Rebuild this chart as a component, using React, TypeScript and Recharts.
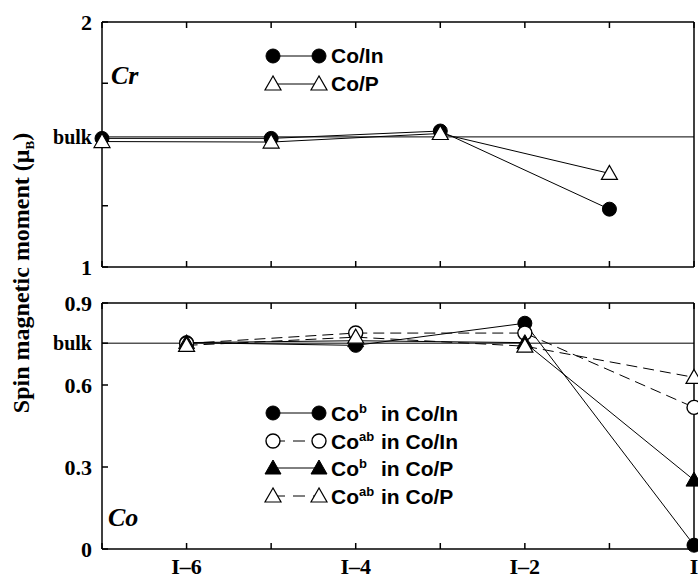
import React from "react";
import { LineChart, Line, XAxis, YAxis, ReferenceLine } from "recharts";

// Cr panel (x = layer offset from interface I)
const crX = [-7, -5, -3, -1];
const crCoIn = [1.525, 1.525, 1.555, 1.236];
const crCoP = [1.512, 1.51, 1.545, 1.382];
const crBulk = 1.531;

// Co panel
const coX = [-6, -4, -2, 0];
const coBInCoIn = [0.755, 0.745, 0.826, 0.014];
const coAbInCoIn = [0.752, 0.79, 0.79, 0.518];
const coBInCoP = [0.755, 0.762, 0.755, 0.252];
const coAbInCoP = [0.745, 0.775, 0.742, 0.628];
const coBulk = 0.753;

const xTicks = [-7, -6, -5, -4, -3, -2, -1, 0];
const xTickLabels: Record<string, string> = { "-6": "I–6", "-4": "I–4", "-2": "I–2", "0": "I" };
const crYTicks = [1, 1.25, crBulk, 1.75, 2];
const crYLabels = ["1", "", "bulk", "", "2"];
const coYTicks = [0, 0.3, 0.6, coBulk, 0.9];
const coYLabels = ["0", "0.3", "0.6", "bulk", "0.9"];

const crData = crX.map((x, i) => ({ x, coIn: crCoIn[i], coP: crCoP[i] }));
const coData = coX.map((x, i) => ({
  x,
  bIn: coBInCoIn[i],
  abIn: coAbInCoIn[i],
  bP: coBInCoP[i],
  abP: coAbInCoP[i],
}));

const SERIF = "'Liberation Serif', 'Times New Roman', serif";
const SANS = "'Liberation Sans', Arial, sans-serif";
const DASH = "11 6";

function Marker({ cx, cy, kind }: { cx: number; cy: number; kind: string }) {
  if (cx == null || cy == null) return null;
  if (kind === "circle") return <circle cx={cx} cy={cy} r={7} fill="#000" stroke="#000" />;
  if (kind === "ocircle") return <circle cx={cx} cy={cy} r={7} fill="#fff" stroke="#000" strokeWidth={1.4} />;
  const pts = `${cx},${cy - 8} ${cx - 8},${cy + 6} ${cx + 8},${cy + 6}`;
  if (kind === "tri") return <polygon points={pts} fill="#000" stroke="#000" />;
  return <polygon points={pts} fill="#fff" stroke="#000" strokeWidth={1.2} />;
}

const dotFor = (kind: string) => (props: any) => (
  <g key={`${kind}-${props.index}`}>
    <Marker cx={props.cx} cy={props.cy} kind={kind} />
  </g>
);

function yTick(ticks: number[], labels: string[]) {
  return (props: any) => {
    const { x, y, payload } = props;
    const idx = ticks.indexOf(payload.value);
    const label = labels[idx] ?? "";
    const isBulk = label === "bulk";
    return (
      <text
        x={x}
        y={y}
        dy="0.35em"
        textAnchor="end"
        fontFamily={SERIF}
        fontWeight="bold"
        fontSize={isBulk ? 20 : 22}
        fill="#000"
      >
        {label}
      </text>
    );
  };
}

// bottom axis height, left axis width, etc. are used as real box sizes
function Frame({ ticks, domain, yLabels, rightTicks, bottomLabels, bottomH }: any) {
  return [
    <XAxis
      key="xb"
      xAxisId="b"
      dataKey="x"
      type="number"
      domain={[-7, 0]}
      ticks={xTicks}
      interval={0}
      height={bottomH}
      tickSize={-6}
      tickMargin={15}
      stroke="#000"
      strokeWidth={1.5}
      tick={{ fontFamily: SERIF, fontWeight: "bold", fontSize: 22, fill: "#000" }}
      tickFormatter={(v: number) => (bottomLabels ? xTickLabels[String(v)] ?? "" : "")}
    />,
    <XAxis
      key="xt"
      xAxisId="t"
      orientation="top"
      dataKey="x"
      type="number"
      domain={[-7, 0]}
      ticks={xTicks}
      interval={0}
      height={2}
      tickSize={-6}
      stroke="#000"
      strokeWidth={1.5}
      tickFormatter={() => ""}
    />,
    <YAxis
      key="yl"
      yAxisId="l"
      type="number"
      domain={domain}
      ticks={ticks}
      interval={0}
      width={60}
      tickSize={-6}
      tickMargin={16}
      stroke="#000"
      strokeWidth={1.5}
      tick={yTick(ticks, yLabels)}
    />,
    <YAxis
      key="yr"
      yAxisId="r"
      orientation="right"
      type="number"
      domain={domain}
      ticks={rightTicks}
      interval={0}
      width={2}
      tickSize={-6}
      stroke="#000"
      strokeWidth={1.5}
      tickFormatter={() => ""}
    />,
  ];
}

function LegendRow({ kind, dashed, top, children }: any) {
  return (
    <div style={{ position: "absolute", left: 262, top: top - 11, height: 22, display: "flex", alignItems: "center" }}>
      <svg width={68} height={22} style={{ display: "block" }}>
        <line x1={11} y1={11} x2={57} y2={11} stroke="#000" strokeWidth={1} strokeDasharray={dashed ? "12 8" : undefined} />
        <Marker cx={11} cy={11} kind={kind} />
        <Marker cx={57} cy={11} kind={kind} />
      </svg>
      <span style={{ fontFamily: SANS, fontWeight: "bold", fontSize: 21, color: "#000", marginLeft: 1, whiteSpace: "pre" }}>
        {children}
      </span>
    </div>
  );
}

function CoName({ sup, rest }: { sup: string; rest: string }) {
  return (
    <>
      Co
      <span style={{ display: "inline-block", width: 22, fontSize: 13, verticalAlign: "8px" }}>{sup}</span>
      {rest}
    </>
  );
}

export default function App() {
  return (
    <div style={{ position: "relative", width: 698, height: 579, background: "#fff", overflow: "hidden" }}>
      <style>{"body{margin:0}"}</style>

      <div style={{ position: "absolute", left: 0, top: 0 }}>
        <LineChart width={698} height={290} data={crData} margin={{ top: 20, right: 2, bottom: 0, left: 42 }}>
          {Frame({ ticks: crYTicks, domain: [1, 2], yLabels: crYLabels, rightTicks: [1.25, 1.5, 1.75], bottomLabels: false, bottomH: 23 })}
          <ReferenceLine xAxisId="b" yAxisId="l" y={crBulk} stroke="#000" strokeWidth={1} />
          <Line xAxisId="b" yAxisId="l" dataKey="coIn" stroke="#000" strokeWidth={1} dot={dotFor("circle")} isAnimationActive={false} />
          <Line xAxisId="b" yAxisId="l" dataKey="coP" stroke="#000" strokeWidth={1} dot={dotFor("otri")} isAnimationActive={false} />
        </LineChart>
      </div>

      <div style={{ position: "absolute", left: 0, top: 290 }}>
        <LineChart width={698} height={289} data={coData} margin={{ top: 11, right: 2, bottom: 0, left: 42 }}>
          {Frame({ ticks: coYTicks, domain: [0, 0.9], yLabels: coYLabels, rightTicks: [0.3, 0.6], bottomLabels: true, bottomH: 30 })}
          <ReferenceLine xAxisId="b" yAxisId="l" y={coBulk} stroke="#000" strokeWidth={1} />
          <Line xAxisId="b" yAxisId="l" dataKey="bIn" stroke="#000" strokeWidth={1} dot={dotFor("circle")} isAnimationActive={false} />
          <Line xAxisId="b" yAxisId="l" dataKey="abIn" stroke="#000" strokeWidth={1} strokeDasharray={DASH} dot={dotFor("ocircle")} isAnimationActive={false} />
          <Line xAxisId="b" yAxisId="l" dataKey="bP" stroke="#000" strokeWidth={1} dot={dotFor("tri")} isAnimationActive={false} />
          <Line xAxisId="b" yAxisId="l" dataKey="abP" stroke="#000" strokeWidth={1} strokeDasharray={DASH} dot={dotFor("otri")} isAnimationActive={false} />
        </LineChart>
      </div>

      {/* panel labels */}
      <div style={{ position: "absolute", left: 111, top: 61, fontFamily: SERIF, fontStyle: "italic", fontWeight: "bold", fontSize: 26 }}>Cr</div>
      <div style={{ position: "absolute", left: 108, top: 503, fontFamily: SERIF, fontStyle: "italic", fontWeight: "bold", fontSize: 26 }}>Co</div>

      {/* legends */}
      <LegendRow kind="circle" top={56}>Co/In</LegendRow>
      <LegendRow kind="otri" top={84}>Co/P</LegendRow>

      <LegendRow kind="circle" top={413}><CoName sup="b" rest="in Co/In" /></LegendRow>
      <LegendRow kind="ocircle" dashed top={441}><CoName sup="ab" rest="in Co/In" /></LegendRow>
      <LegendRow kind="tri" top={468}><CoName sup="b" rest="in Co/P" /></LegendRow>
      <LegendRow kind="otri" dashed top={496}><CoName sup="ab" rest="in Co/P" /></LegendRow>

      {/* y axis title */}
      <div
        style={{
          position: "absolute",
          left: 23,
          top: 273,
          transform: "translate(-50%, -50%) rotate(-90deg)",
          fontFamily: SERIF,
          fontWeight: "bold",
          fontSize: 24,
          whiteSpace: "nowrap",
        }}
      >
        Spin magnetic moment (μ<sub style={{ fontSize: 13 }}>B</sub>)
      </div>
    </div>
  );
}
